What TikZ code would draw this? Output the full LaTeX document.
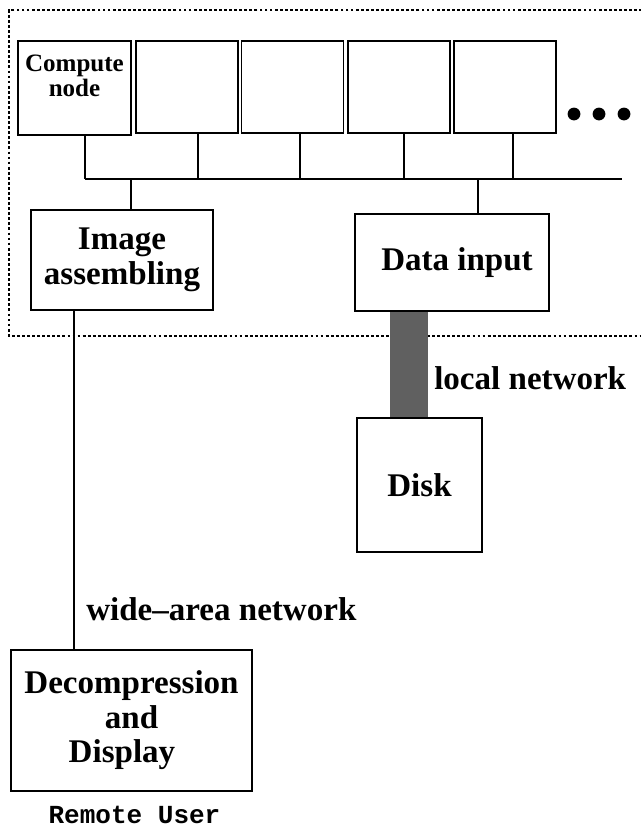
\documentclass[tikz,border=0pt]{standalone}
\usepackage{fontspec}
\setmainfont{Liberation Serif}
\setmonofont{Liberation Mono}
\usetikzlibrary{positioning,calc}
\definecolor{lanGray}{RGB}{96,96,96}
\tikzset{
  box/.style={draw,line width=1pt,inner sep=0pt,align=center,
              font=\fontsize{23.5}{24.5}\selectfont\bfseries},
  cpu/.style={draw,line width=1pt,minimum width=2.55cm,minimum height=2.3cm},
  wire/.style={line width=1pt},
  lanbar/.style={draw=lanGray,line width=27pt,shorten <=0.5pt,shorten >=0.5pt},
  zone/.style={line width=0.8pt,dash pattern=on 2pt off 1.6pt},
  lbl/.style={inner sep=0pt,font=\fontsize{23.5}{24.5}\selectfont\bfseries}
}

\begin{document}
\begin{tikzpicture}[x=0.025cm,y=-0.025cm]
  \useasboundingbox (0,0) rectangle (640,829);
  % cluster frame
  \draw[zone] (642,10) -- (9,10) -- (9,336) -- (642,336);

  % compute nodes
  \node[cpu,minimum width=2.825cm,minimum height=2.35cm] (cn1) at (74.5,88) {};
  \node[lbl,align=center,font=\fontsize{17.8}{17.8}\selectfont\bfseries,
        below=0.35cm of cn1.north] (cnlabel) {Compute\\node};
  \foreach \n/\x in {2/187,3/292.5,4/399,5/505}
    \node[cpu] (cn\n) at (\x,87) {};
  \foreach \x in {574,599,624}
    \fill (\x,114) circle (0.16cm);

  % bus
  \coordinate (d1) at (85,179);
  \coordinate (d2) at (198,179);
  \coordinate (d3) at (300,179);
  \coordinate (d4) at (404,179);
  \coordinate (d5) at (513,179);
  \coordinate (busR) at (622,179);
  \coordinate (tapImg) at (131,179);
  \coordinate (tapData) at (478,179);
  \draw[wire] (d1) -- (busR);
  \foreach \n in {1,...,5}
    \draw[wire] (cn\n.south -| d\n) -- (d\n);

  % service nodes
  \node[box,minimum width=4.55cm,minimum height=2.5cm] (img) at (122,260)
    {Image\\assembling};
  \node[box,minimum width=4.85cm,minimum height=2.425cm] (data) at (452,262.5)
    {\hspace{0.25cm}Data input};
  \node[box,minimum width=3.125cm,minimum height=3.35cm] (disk) at (419.5,485)
    {Disk};
  \node[box,minimum width=6.025cm,minimum height=3.525cm] (dec) at (131.5,720.5)
    {Decompression\\and\hspace*{0.725cm}\\Display\hspace*{0.475cm}};

  \draw[wire] (tapImg) -- (tapImg |- img.north);
  \draw[wire] (tapData) -- (tapData |- data.north);

  % networks
  \coordinate (wan) at (74,0);
  \coordinate (lan) at (409,0);
  \draw[wire] (img.south -| wan) -- (dec.north -| wan);
  \draw[lanbar] (data.south -| lan) -- (disk.north -| lan);

  \node[lbl,anchor=base west] (lanlabel) at (434,389) {local network};
  \node[lbl,anchor=base west] (wanlabel) at (86,620) {wide–area network};
  \node[inner sep=0pt,anchor=base,font=\fontsize{18.5}{20}\selectfont\ttfamily\bfseries]
    (user) at (134.5,823) {Remote User};
\end{tikzpicture}
\end{document}
